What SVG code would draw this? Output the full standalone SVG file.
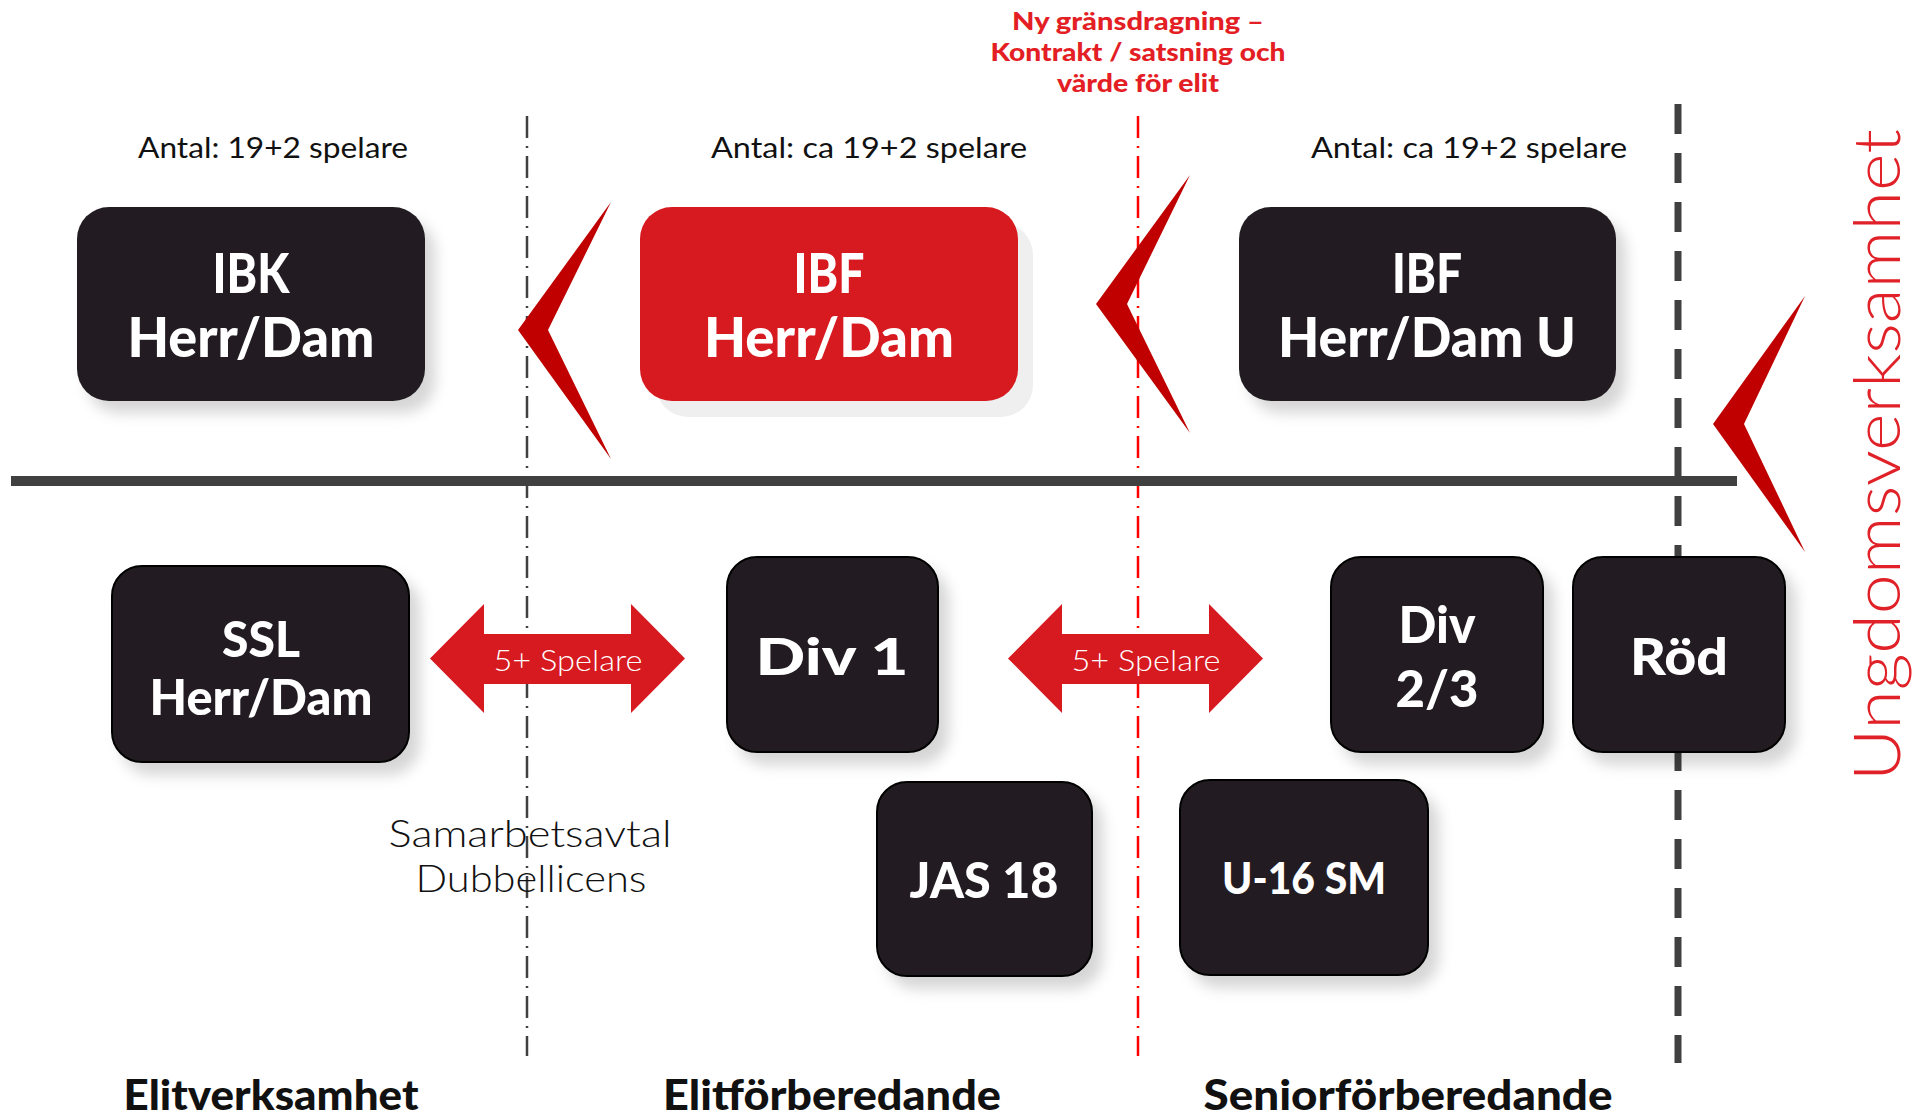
<svg xmlns="http://www.w3.org/2000/svg" width="1921" height="1117" viewBox="0 0 1921 1117">
<style>
.box{fill:#231f20}
.boxb{fill:#231f20;stroke:#000;stroke-width:2}
.nt{font-family:Lato,"Liberation Sans",sans-serif;font-weight:900;fill:#fff;text-anchor:middle}
.lt{font-family:Lato,"Liberation Sans",sans-serif;font-weight:300;fill:#111;text-anchor:middle}
.ct{font-family:Lato,"Liberation Sans",sans-serif;font-weight:400;fill:#111;text-anchor:middle;font-size:29px}
.rt{font-family:Lato,"Liberation Sans",sans-serif;font-weight:900;fill:#e31e24;text-anchor:middle;font-size:25px}
.bt{font-family:Lato,"Liberation Sans",sans-serif;font-weight:900;fill:#111;text-anchor:middle;font-size:42px}
.chev{fill:#c00000}
.arr{fill:#d71920}
.at{font-family:Lato,"Liberation Sans",sans-serif;font-weight:300;font-size:29px;fill:#fff;text-anchor:middle}
</style>
<defs>
<filter id="sh" x="-20%" y="-20%" width="150%" height="160%">
<feDropShadow dx="10" dy="12" stdDeviation="7" flood-color="#000" flood-opacity="0.16"/>
</filter>
</defs>
<rect width="1921" height="1117" fill="#fff"/>

<g id="connectors">
<line x1="527" y1="116" x2="527" y2="1056" stroke="#404040" stroke-width="2.5" stroke-dasharray="22 8 2 8"/>
<line x1="1138" y1="116" x2="1138" y2="1056" stroke="#ff0000" stroke-width="2.5" stroke-dasharray="22 8 2 8"/>
<line x1="1678" y1="104" x2="1678" y2="1063" stroke="#404040" stroke-width="7" stroke-dasharray="30 19"/>
<line x1="11" y1="481" x2="1737" y2="481" stroke="#404040" stroke-width="10"/>
<polygon class="chev" points="611,202 518,330 611,459 548,330"/>
<polygon class="chev" points="1190,175 1096,304 1190,433 1127,304"/>
<polygon class="chev" points="1805,296 1713,424 1805,552 1744,424"/>
<g id="arrow1">
<polygon class="arr" points="430,658.5 484,604 484,634 631,634 631,604 685,658.5 631,713 631,684 484,684 484,713"/>
<text class="at" x="568" y="671" textLength="149" lengthAdjust="spacingAndGlyphs">5+ Spelare</text>
</g>
<g id="arrow2">
<polygon class="arr" points="1008,658.5 1062,604 1062,634 1209,634 1209,604 1263,658.5 1209,713 1209,684 1062,684 1062,713"/>
<text class="at" x="1146" y="671" textLength="149" lengthAdjust="spacingAndGlyphs">5+ Spelare</text>
</g>
</g>

<g id="header">
<text class="rt" x="1138" y="30" textLength="252" lengthAdjust="spacingAndGlyphs">Ny gränsdragning –</text>
<text class="rt" x="1138" y="61" textLength="295" lengthAdjust="spacingAndGlyphs">Kontrakt / satsning och</text>
<text class="rt" x="1138" y="92" textLength="162" lengthAdjust="spacingAndGlyphs">värde för elit</text>
<text class="ct" x="273" y="158" textLength="270" lengthAdjust="spacingAndGlyphs">Antal: 19+2 spelare</text>
<text class="ct" x="869" y="158" textLength="316" lengthAdjust="spacingAndGlyphs">Antal: ca 19+2 spelare</text>
<text class="ct" x="1469" y="158" textLength="316" lengthAdjust="spacingAndGlyphs">Antal: ca 19+2 spelare</text>
</g>

<g id="ibk">
<rect class="box" x="77" y="207" width="348" height="194" rx="32" filter="url(#sh)"/>
<text class="nt" x="251" y="293" font-size="56" textLength="77" lengthAdjust="spacingAndGlyphs">IBK</text>
<text class="nt" x="251" y="357" font-size="56" textLength="247" lengthAdjust="spacingAndGlyphs">Herr/Dam</text>
</g>
<g id="ibf">
<rect x="656" y="223" width="377" height="194" rx="32" fill="#efefef"/>
<rect x="640" y="207" width="378" height="194" rx="32" fill="#d71920"/>
<text class="nt" x="829" y="293" font-size="56" textLength="71" lengthAdjust="spacingAndGlyphs">IBF</text>
<text class="nt" x="829" y="357" font-size="56" textLength="250" lengthAdjust="spacingAndGlyphs">Herr/Dam</text>
</g>
<g id="ibfu">
<rect class="box" x="1239" y="207" width="377" height="194" rx="32" filter="url(#sh)"/>
<text class="nt" x="1427" y="293" font-size="56" textLength="70" lengthAdjust="spacingAndGlyphs">IBF</text>
<text class="nt" x="1427" y="357" font-size="56" textLength="298" lengthAdjust="spacingAndGlyphs">Herr/Dam U</text>
</g>

<g id="ssl">
<rect class="boxb" x="112" y="566" width="297" height="196" rx="30" filter="url(#sh)"/>
<text class="nt" x="261" y="657" font-size="50" textLength="78" lengthAdjust="spacingAndGlyphs">SSL</text>
<text class="nt" x="261" y="715" font-size="50" textLength="223" lengthAdjust="spacingAndGlyphs">Herr/Dam</text>
</g>
<g id="div1">
<rect class="boxb" x="727" y="557" width="211" height="195" rx="30" filter="url(#sh)"/>
<text class="nt" x="832" y="675" font-size="52" textLength="153" lengthAdjust="spacingAndGlyphs">Div 1</text>
</g>
<g id="div23">
<rect class="boxb" x="1331" y="557" width="212" height="195" rx="30" filter="url(#sh)"/>
<text class="nt" x="1437" y="643" font-size="52" textLength="77" lengthAdjust="spacingAndGlyphs">Div</text>
<text class="nt" x="1437" y="707" font-size="52" textLength="83" lengthAdjust="spacingAndGlyphs">2/3</text>
</g>
<g id="rod">
<rect class="boxb" x="1573" y="557" width="212" height="195" rx="30" filter="url(#sh)"/>
<text class="nt" x="1679" y="675" font-size="52" textLength="98" lengthAdjust="spacingAndGlyphs">Röd</text>
</g>
<g id="jas18">
<rect class="boxb" x="877" y="782" width="215" height="194" rx="30" filter="url(#sh)"/>
<text class="nt" x="984" y="898" font-size="49" textLength="149" lengthAdjust="spacingAndGlyphs">JAS 18</text>
</g>
<g id="u16">
<rect class="boxb" x="1180" y="780" width="248" height="195" rx="30" filter="url(#sh)"/>
<text class="nt" x="1304" y="894" font-size="43" textLength="164" lengthAdjust="spacingAndGlyphs">U-16 SM</text>
</g>

<g id="samarbete">
<text class="lt" x="530" y="847" font-size="37" textLength="283" lengthAdjust="spacingAndGlyphs">Samarbetsavtal</text>
<text class="lt" x="531" y="892" font-size="37" textLength="231" lengthAdjust="spacingAndGlyphs">Dubbellicens</text>
</g>

<g id="ungdom">
<text x="1900" y="455" transform="rotate(-90 1900 455)" font-family="Lato,'Liberation Sans',sans-serif" font-weight="300" font-size="66" fill="#e02128" text-anchor="middle" textLength="652" lengthAdjust="spacingAndGlyphs">Ungdomsverksamhet</text>
</g>

<g id="footer">
<text class="bt" x="271" y="1110" textLength="295" lengthAdjust="spacingAndGlyphs">Elitverksamhet</text>
<text class="bt" x="832" y="1110" textLength="338" lengthAdjust="spacingAndGlyphs">Elitförberedande</text>
<text class="bt" x="1408" y="1110" textLength="409" lengthAdjust="spacingAndGlyphs">Seniorförberedande</text>
</g>
</svg>
